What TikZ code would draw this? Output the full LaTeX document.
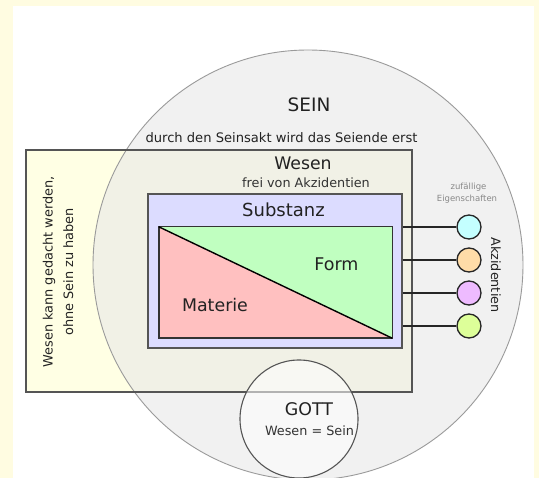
\documentclass[tikz,border=0pt]{standalone}
\usepackage{fontspec}
\setmainfont{DejaVu Sans}
\definecolor{bgyellow}{HTML}{FFFCE1}
\definecolor{wesenfill}{HTML}{FFFFE4}
\definecolor{wesenline}{HTML}{555555}
\definecolor{seinfill}{HTML}{E8E8E8}
\definecolor{seinline}{HTML}{9A9A9A}
\definecolor{substfill}{HTML}{DCDCFF}
\definecolor{formgreen}{HTML}{C0FFC0}
\definecolor{matpink}{HTML}{FFC0C0}
\definecolor{txt}{HTML}{222222}
\definecolor{smalltxt}{HTML}{888888}
\definecolor{acccyan}{HTML}{C4FFFF}
\definecolor{accpeach}{HTML}{FFDCA8}
\definecolor{accviolet}{HTML}{EEBBFF}
\definecolor{acclime}{HTML}{DDFF99}
\tikzset{
  lbl/.style={anchor=base, inner sep=0pt, text=txt},
  acc/.style={circle, draw=black!85, line width=1.3pt, minimum size=24pt, inner sep=0pt},
  accline/.style={draw=black!85, line width=1.2pt},
}
\newcommand{\fs}[1]{\fontsize{#1}{#1}\selectfont}
\begin{document}
\begin{tikzpicture}[x=1pt,y=-1pt]
\useasboundingbox (0,0) rectangle (539,478);
\fill[bgyellow] (0,0) rectangle (539,478);
\fill[white] (13,6) rectangle (534,478);
\begin{scope}
\clip (13,6) rectangle (534,478);
% Wesen rectangle (fill)
\node[rectangle, minimum width=386pt, minimum height=242pt, inner sep=0pt, fill=wesenfill] (wesen) at (219,271) {};
% SEIN circle
\node[circle, minimum size=430pt, inner sep=0pt, fill=seinfill, fill opacity=0.6, draw=seinline, line width=0.9pt] (sein) at (308,265) {};
% Wesen border over the circle
\draw[wesenline, line width=1.6pt] (wesen.north west) rectangle (wesen.south east);
% Substanz
\node[rectangle, minimum width=254pt, minimum height=154pt, inner sep=0pt, fill=substfill, draw=wesenline, line width=1.4pt] (subst) at (275,271) {};
% Materie / Form
\node[rectangle, minimum width=233pt, minimum height=111pt, inner sep=0pt] (mf) at (275.5,282.5) {};
\fill[formgreen] (mf.north west) -- (mf.north east) -- (mf.south east) -- cycle;
\fill[matpink] (mf.north west) -- (mf.south west) -- (mf.south east) -- cycle;
\draw[black!80, line width=1.4pt] (mf.north west) rectangle (mf.south east);
\draw[black, line width=1.4pt] (mf.north west) -- (mf.south east);
% GOTT circle
\node[circle, minimum size=118pt, inner sep=0pt, fill=white, fill opacity=0.55, draw=wesenline, line width=1.1pt] (gott) at (299,419) {};
% Akzidentien
\node[acc, fill=acccyan] (a1) at (469,227) {};
\node[acc, fill=accpeach] (a2) at (469,260) {};
\node[acc, fill=accviolet] (a3) at (469,293) {};
\node[acc, fill=acclime] (a4) at (469,326) {};
\draw[accline] (subst.east |- a1) -- (a1);
\draw[accline] (subst.east |- a2) -- (a2);
\draw[accline] (subst.east |- a3) -- (a3);
\draw[accline] (subst.east |- a4) -- (a4);
\end{scope}
% texts
\node[lbl] (tsein) at (309,112) {\fs{18.5}SEIN};
\node[lbl] (tdurch) at (281.5,143) {\fs{13.1}durch den Seinsakt wird das Seiende erst};
\node[lbl] (twesen) at (303,170) {\fs{17.3}Wesen};
\node[lbl, text=black!80] (tfrei) at (306,188) {\fs{12.8}frei von Akzidentien};
\node[lbl] (tsubst) at (283.5,217) {\fs{18}Substanz};
\node[lbl] (tform) at (336.5,271) {\fs{17.5}Form};
\node[lbl] (tmat) at (215,312) {\fs{17.4}Materie};
\node[lbl] (tgott) at (309,416) {\fs{17.4}GOTT};
\node[lbl, text=black!80] (tws) at (309.5,436) {\fs{12.8}Wesen = Sein};
\node[lbl, text=smalltxt] (tzuf) at (468.5,190) {\fs{8.5}zufällige};
\node[lbl, text=smalltxt] (teig) at (467,202) {\fs{8.5}Eigenschaften};
\node[lbl, rotate=-90] (takz) at (491,275) {\fs{12.8}Akzidentien};
\node[lbl, rotate=90] (tl1) at (52.5,272) {\fs{12.9}Wesen kann gedacht werden,};
\node[lbl, rotate=90] (tl2) at (73,272) {\fs{12.9}ohne Sein zu haben};
\end{tikzpicture}
\end{document}
